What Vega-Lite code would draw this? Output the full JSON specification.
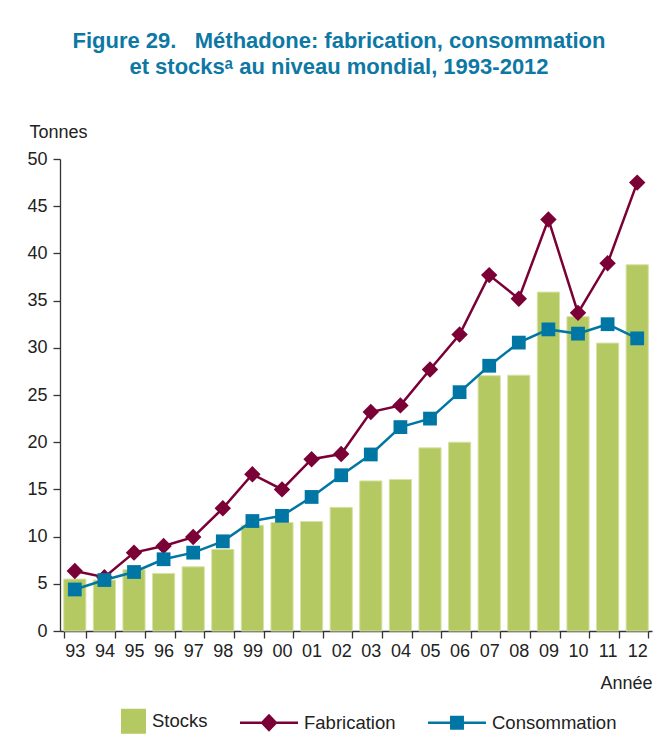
{
  "$schema": "https://vega.github.io/schema/vega-lite/v6.json",
  "width": 592,
  "height": 472,
  "autosize": {"type": "none"},
  "padding": {"left": 60, "top": 159, "right": 12, "bottom": 120},
  "background": "white",
  "title": {
    "text": ["Figure 29.\u00a0\u00a0\u00a0Méthadone: fabrication, consommation", "et stocksᵃ au niveau mondial, 1993-2012"],
    "font": "Liberation Sans, Arial, sans-serif",
    "fontSize": 22,
    "fontWeight": "bold",
    "color": "#0e78a5",
    "lineHeight": 26,
    "anchor": "middle",
    "dx": -17,
    "offset": 44
  },
  "data": {
    "values": [
      {"year": 1993, "series": "Stocks", "value": 5.5},
      {"year": 1994, "series": "Stocks", "value": 5.4},
      {"year": 1995, "series": "Stocks", "value": 6.5},
      {"year": 1996, "series": "Stocks", "value": 6.1},
      {"year": 1997, "series": "Stocks", "value": 6.8},
      {"year": 1998, "series": "Stocks", "value": 8.65},
      {"year": 1999, "series": "Stocks", "value": 11.2},
      {"year": 2000, "series": "Stocks", "value": 11.5},
      {"year": 2001, "series": "Stocks", "value": 11.6},
      {"year": 2002, "series": "Stocks", "value": 13.1},
      {"year": 2003, "series": "Stocks", "value": 15.9},
      {"year": 2004, "series": "Stocks", "value": 16.05},
      {"year": 2005, "series": "Stocks", "value": 19.4},
      {"year": 2006, "series": "Stocks", "value": 20.0},
      {"year": 2007, "series": "Stocks", "value": 27.05},
      {"year": 2008, "series": "Stocks", "value": 27.1},
      {"year": 2009, "series": "Stocks", "value": 35.9},
      {"year": 2010, "series": "Stocks", "value": 33.3},
      {"year": 2011, "series": "Stocks", "value": 30.5},
      {"year": 2012, "series": "Stocks", "value": 38.8},
      {"year": 1993, "series": "Fabrication", "value": 6.35},
      {"year": 1994, "series": "Fabrication", "value": 5.7},
      {"year": 1995, "series": "Fabrication", "value": 8.3},
      {"year": 1996, "series": "Fabrication", "value": 9.0},
      {"year": 1997, "series": "Fabrication", "value": 9.95},
      {"year": 1998, "series": "Fabrication", "value": 13.0},
      {"year": 1999, "series": "Fabrication", "value": 16.6},
      {"year": 2000, "series": "Fabrication", "value": 15.0},
      {"year": 2001, "series": "Fabrication", "value": 18.2},
      {"year": 2002, "series": "Fabrication", "value": 18.75},
      {"year": 2003, "series": "Fabrication", "value": 23.2},
      {"year": 2004, "series": "Fabrication", "value": 23.9},
      {"year": 2005, "series": "Fabrication", "value": 27.7},
      {"year": 2006, "series": "Fabrication", "value": 31.4},
      {"year": 2007, "series": "Fabrication", "value": 37.7},
      {"year": 2008, "series": "Fabrication", "value": 35.2},
      {"year": 2009, "series": "Fabrication", "value": 43.6},
      {"year": 2010, "series": "Fabrication", "value": 33.7},
      {"year": 2011, "series": "Fabrication", "value": 38.95},
      {"year": 2012, "series": "Fabrication", "value": 47.5},
      {"year": 1993, "series": "Consommation", "value": 4.4},
      {"year": 1994, "series": "Consommation", "value": 5.4},
      {"year": 1995, "series": "Consommation", "value": 6.25},
      {"year": 1996, "series": "Consommation", "value": 7.6},
      {"year": 1997, "series": "Consommation", "value": 8.3},
      {"year": 1998, "series": "Consommation", "value": 9.5},
      {"year": 1999, "series": "Consommation", "value": 11.65},
      {"year": 2000, "series": "Consommation", "value": 12.2},
      {"year": 2001, "series": "Consommation", "value": 14.2},
      {"year": 2002, "series": "Consommation", "value": 16.5},
      {"year": 2003, "series": "Consommation", "value": 18.7},
      {"year": 2004, "series": "Consommation", "value": 21.6},
      {"year": 2005, "series": "Consommation", "value": 22.5},
      {"year": 2006, "series": "Consommation", "value": 25.3},
      {"year": 2007, "series": "Consommation", "value": 28.1},
      {"year": 2008, "series": "Consommation", "value": 30.55},
      {"year": 2009, "series": "Consommation", "value": 31.95},
      {"year": 2010, "series": "Consommation", "value": 31.5},
      {"year": 2011, "series": "Consommation", "value": 32.5},
      {"year": 2012, "series": "Consommation", "value": 31.0}
    ]
  },
  "encoding": {
    "x": {
      "field": "year",
      "type": "ordinal",
      "scale": {"paddingInner": 0.25, "paddingOuter": 0.125},
      "axis": {
        "title": "Année",
        "labelExpr": "datum.value ? substring(toString(datum.value), 2) : ''",
        "labelAngle": 0,
        "tickBand": "extent",
        "tickSize": 7,
        "labelPadding": 4,
        "titleAlign": "right",
        "titleAnchor": "end",
        "titleX": 592,
        "titleY": 57,
        "titleBaseline": "alphabetic"
      }
    },
    "y": {
      "field": "value",
      "type": "quantitative",
      "scale": {"domain": [0, 50], "nice": false},
      "axis": {
        "title": "Tonnes",
        "values": [0, 5, 10, 15, 20, 25, 30, 35, 40, 45, 50],
        "tickSize": 7,
        "labelPadding": 6,
        "titleAngle": 0,
        "titleAlign": "left",
        "titleBaseline": "alphabetic",
        "titleX": -31,
        "titleY": -22
      }
    },
    "color": {
      "field": "series",
      "type": "nominal",
      "scale": {"domain": ["Stocks", "Fabrication", "Consommation"], "range": ["#b5c962", "#7a0036", "#0076a5"]},
      "legend": {
        "title": null,
        "orient": "none",
        "legendX": 28,
        "legendY": 533,
        "direction": "horizontal",
        "padding": 0,
        "symbolSize": 3364,
        "labelFontSize": 18.5,
        "labelOffset": 6,
        "columnPadding": 32,
        "labelColor": "#222",
        "labelFont": "Liberation Sans, Arial, sans-serif",
        "encode": {
          "symbols": {
            "update": {
              "shape": {"signal": "datum.value === 'Stocks' ? 'M0.138,-0.431H1V0.431H0.138Z' : (datum.value === 'Fabrication' ? 'M-1,-0.045H-0.256L0,-0.31L0.256,-0.045H1V0.045H0.256L0,0.31L-0.256,0.045H-1Z' : 'M-1,-0.045H-0.24V-0.24H0.24V-0.045H1V0.045H0.24V0.24H-0.24V0.045H-1Z')"},
              "fill": {"scale": "color", "field": "value"},
              "stroke": {"value": "transparent"},
              "strokeWidth": {"value": 0},
              "opacity": {"value": 1},
              "fillOpacity": {"value": 1}
            }
          }
        }
      }
    }
  },
  "layer": [
    {
      "transform": [{"filter": "datum.series === 'Stocks'"}],
      "mark": {"type": "bar", "stroke": "#d9e2a6", "strokeWidth": 1}
    },
    {
      "transform": [{"filter": "datum.series === 'Fabrication'"}],
      "mark": {"type": "line", "strokeWidth": 2.5, "point": {"shape": "diamond", "size": 270, "filled": true, "opacity": 1}}
    },
    {
      "transform": [{"filter": "datum.series === 'Consommation'"}],
      "mark": {"type": "line", "strokeWidth": 2.5, "point": {"shape": "square", "size": 190, "filled": true, "opacity": 1}}
    }
  ],
  "config": {
    "view": {"stroke": null},
    "axis": {
      "labelFont": "Liberation Sans, Arial, sans-serif",
      "titleFont": "Liberation Sans, Arial, sans-serif",
      "labelFontSize": 18,
      "titleFontSize": 18,
      "titleFontWeight": "normal",
      "labelColor": "#222",
      "titleColor": "#222",
      "domainColor": "#333",
      "tickColor": "#333",
      "domainWidth": 1.3,
      "tickWidth": 1.3,
      "grid": false
    }
  }
}
